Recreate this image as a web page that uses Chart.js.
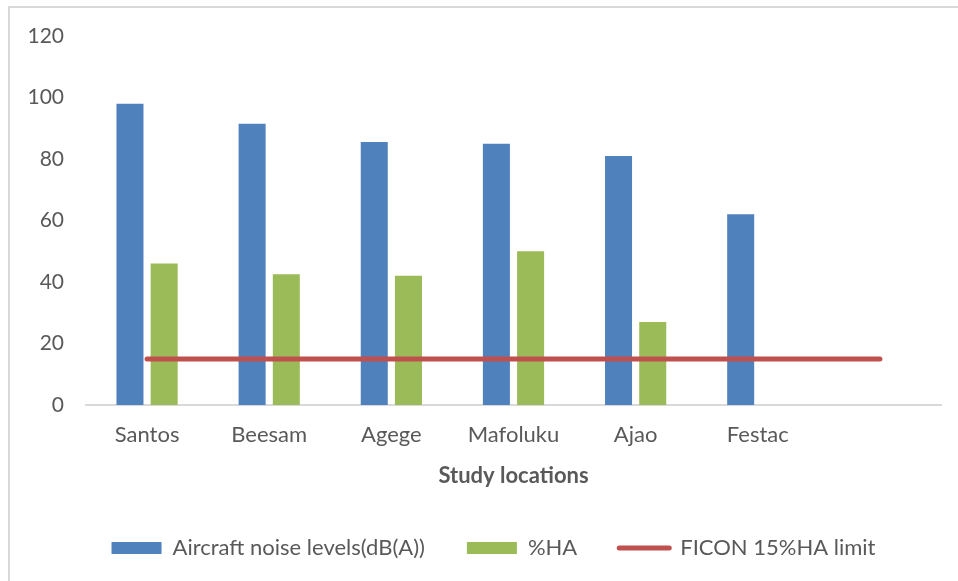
<!DOCTYPE html>
<html><head><meta charset="utf-8">
<script src="https://cdn.jsdelivr.net/npm/chart.js@4.4.1/dist/chart.umd.min.js"></script>
<style>
html,body{margin:0;padding:0;background:#fff;overflow:hidden}
#wrap{position:relative;width:958px;height:581px}
#frame{position:absolute;left:8px;top:6px;width:980px;height:600px;border-top:2px solid #d9d9d9;border-left:2px solid #d9d9d9;pointer-events:none}
canvas{position:absolute;left:0;top:0}
</style></head><body>
<div id="wrap"><canvas id="c" width="958" height="581"></canvas><div id="frame"></div></div>
<script>
const categories = ['Santos', 'Beesam', 'Agege', 'Mafoluku', 'Ajao', 'Festac', ''];
const noiseLevels = [98, 91.5, 85.5, 85, 81, 62, null];
const haPercent = [46, 42.5, 42, 50, 27, null, null];
const ficonLimit = [15, 15, 15, 15, 15, 15, 15];
const yTicks = [0, 20, 40, 60, 80, 100, 120];
const seriesNames = ['Aircraft noise levels(dB(A))', '%HA', 'FICON 15%HA limit'];

const FONT = 'Lato, "Open Sans", sans-serif';
const TXT = '#595959';
const LEGEND_SHIFT = 23;

const legendShift = {
  id: 'legendShift',
  afterLayout(chart) {
    const lg = chart.legend;
    if (lg) { lg.left += LEGEND_SHIFT; lg.right += LEGEND_SHIFT; }
  }
};

new Chart(document.getElementById('c'), {
  type: 'bar',
  data: {
    labels: categories,
    datasets: [
      { label: seriesNames[0], data: noiseLevels, backgroundColor: '#4F81BD', borderWidth: 0,
        categoryPercentage: 0.56, barPercentage: 0.79, order: 1 },
      { label: seriesNames[1], data: haPercent, backgroundColor: '#9BBB59', borderWidth: 0,
        categoryPercentage: 0.56, barPercentage: 0.79, order: 1 },
      { type: 'line', label: seriesNames[2], data: ficonLimit, borderColor: '#C0504D', backgroundColor: '#C0504D',
        borderWidth: 5, pointRadius: 0, borderCapStyle: 'round', tension: 0, order: -1 }
    ]
  },
  plugins: [legendShift],
  options: {
    responsive: false,
    animation: false,
    layout: { padding: { top: 36, left: 0, right: 17, bottom: 12 } },
    plugins: {
      tooltip: { enabled: false },
      legend: {
        position: 'bottom',
        labels: {
          font: { family: FONT, size: 22 },
          color: TXT,
          padding: 42,
          usePointStyle: true,
          pointStyleWidth: 50,
          boxHeight: 12,
          sort: (a, b) => a.datasetIndex - b.datasetIndex,
          generateLabels: (chart) => {
            const items = Chart.defaults.plugins.legend.labels.generateLabels(chart);
            items.forEach(it => {
              if (it.datasetIndex === 2) {
                it.pointStyle = 'line'; it.lineWidth = 5; it.lineCap = 'round'; it.strokeStyle = '#C0504D';
              } else {
                it.pointStyle = 'rect'; it.lineWidth = 0;
              }
            });
            return items;
          }
        }
      }
    },
    scales: {
      x: {
        grid: { display: false, drawTicks: false },
        border: { display: true, color: '#d9d9d9', width: 2 },
        ticks: { font: { family: FONT, size: 22 }, color: TXT, padding: 17, maxRotation: 0, autoSkip: false },
        title: { display: true, text: 'Study locations', color: TXT, font: { family: FONT, size: 22, weight: 'bold' }, padding: { top: 4, bottom: 6 } },
        afterFit: (s) => { s.height = 90; }
      },
      y: {
        min: 0, max: 120,
        grid: { display: false, drawTicks: false },
        border: { display: false },
        ticks: { font: { family: FONT, size: 21 }, color: TXT, padding: 22 },
        afterBuildTicks: (s) => { s.ticks = yTicks.map(v => ({ value: v })); },
        afterFit: (s) => { s.width = 86; }
      }
    }
  }
});
</script>
</body></html>
